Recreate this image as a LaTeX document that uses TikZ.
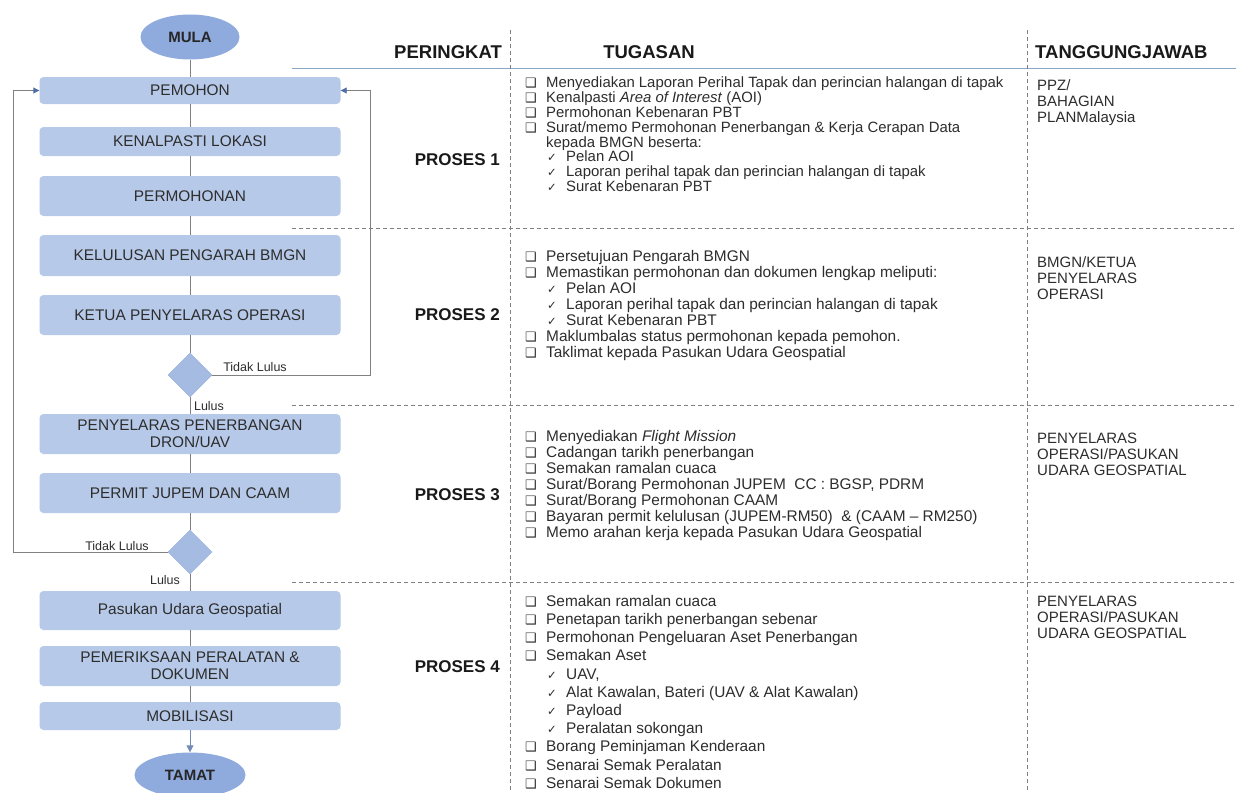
\documentclass[tikz,border=0pt]{standalone}
\usepackage{fontspec}
\setmainfont{Liberation Sans}
\newfontfamily\symfont{DejaVu Sans}
\usetikzlibrary{shapes.geometric}
\usetikzlibrary{arrows.meta}
\usetikzlibrary{calc}
\definecolor{boxblue}{RGB}{183,201,232}
\definecolor{ovalblue}{RGB}{143,170,220}
\definecolor{diablue}{RGB}{166,187,226}
\definecolor{linegray}{RGB}{128,128,128}
\definecolor{tipblue}{RGB}{79,110,165}
\definecolor{txtgray}{RGB}{45,45,45}
\definecolor{rulegray}{RGB}{140,168,196}
\newcommand{\sqbox}{\makebox[21pt][l]{\symfont\fontsize{13}{13}\selectfont ❑}}
\newcommand{\chk}{\hspace*{22pt}\makebox[19pt][l]{\symfont\fontsize{11.5}{11.5}\selectfont ✓}}
\tikzset{pxp/.style={
  x=1pt,
  y=-1pt
}}
\tikzset{stepbox/.style={
  fill=boxblue,
  rounded corners=4pt,
  minimum width=301pt,
  minimum height=40pt,
  inner sep=0pt,
  align=center,
  text=txtgray,
  font=\fontsize{15.4}{17}\selectfont
}}
\tikzset{terminal/.style={
  ellipse,
  fill=ovalblue,
  inner sep=0pt,
  text=black!85,
  font=\bfseries\fontsize{15}{15}\selectfont
}}
\tikzset{decide/.style={
  diamond,
  fill=diablue,
  draw=ovalblue,
  minimum width=44pt,
  minimum height=44pt,
  inner sep=0pt
}}
\tikzset{link/.style={draw=linegray, line width=0.9pt}}
\tikzset{backline/.style={link, -{Triangle[length=6pt,width=6pt,color=tipblue]}}}
\tikzset{endarrow/.style={draw=tipblue!80, line width=1pt, -{Triangle[length=7pt,width=7pt]}}}
\tikzset{verdict/.style={inner sep=0pt, text=txtgray, font=\fontsize{12.5}{13}\selectfont}}
\tikzset{colhead/.style={inner sep=0pt, text=black!90, font=\bfseries\fontsize{18.5}{18.5}\selectfont}}
\tikzset{stage/.style={anchor=east, inner sep=0pt, text=black!90, font=\bfseries\fontsize{17}{17}\selectfont}}
\tikzset{task/.style={anchor=north west, inner sep=0pt, align=left, text=txtgray}}
\tikzset{resp/.style={task, font=\fontsize{15}{16}\selectfont}}
\tikzset{rowsep/.style={draw=linegray, line width=0.6pt, dash pattern=on 4pt off 3pt}}

\begin{document}
\begin{tikzpicture}[pxp]
  \useasboundingbox (0,0) rectangle (1236,792);
  \fill[white] (0,0) rectangle (1236,792);

  % Flow chart
  \node[terminal, minimum width=99pt, minimum height=45pt] (mula) at (190,37) {MULA};
  \node[stepbox, minimum height=27pt] (pemohon) at (190,90.5) {PEMOHON};
  \node[stepbox, minimum height=29pt] (kenal) at (190,141.5) {KENALPASTI LOKASI};
  \node[stepbox] (mohon) at (190,196) {PERMOHONAN};
  \node[stepbox, minimum height=41pt] (lulus) at (190,255.5) {KELULUSAN PENGARAH BMGN};
  \node[stepbox] (ketua) at (190,315) {KETUA PENYELARAS OPERASI};
  \node[decide] (dA) at (190,375) {};
  \node[stepbox] (dron) at (190,434) {PENYELARAS PENERBANGAN\\DRON/UAV};
  \node[stepbox] (permit) at (190,493) {PERMIT JUPEM DAN CAAM};
  \node[decide] (dB) at (190,552) {};
  \node[stepbox, minimum height=39pt] (pasukan) at (190,610.5) {Pasukan Udara Geospatial};
  \node[stepbox] (periksa) at (190,666) {PEMERIKSAAN PERALATAN \&\\DOKUMEN};
  \node[stepbox, minimum height=28pt] (mobil) at (190,716) {MOBILISASI};
  \node[terminal, minimum width=111pt, minimum height=45pt] (tamat) at (190,775) {TAMAT};

  \foreach \a/\b in {mula/pemohon, pemohon/kenal, kenal/mohon, mohon/lulus,
                     lulus/ketua, ketua/dA, dA/dron, dron/permit, permit/dB,
                     dB/pasukan, pasukan/periksa, periksa/mobil}
    \draw[link] (\a) -- (\b);
  \draw[endarrow] (mobil) -- (tamat);

  % Return paths
  \coordinate (rturn) at (370,0);
  \coordinate (lturn) at (13,0);
  \draw[backline] (dA.east) -- (dA.east -| rturn) |- (pemohon.east);
  \draw[backline] (dB.west) -- (dB.west -| lturn) |- (pemohon.west);
  \node[verdict] (tlA) at (255,367) {Tidak Lulus};
  \node[verdict] (lsA) at (209,406) {Lulus};
  \node[verdict] (tlB) at (117,546) {Tidak Lulus};
  \node[verdict] (lsB) at (165,580) {Lulus};

  % Table rules
  \draw[rulegray, line width=0.8pt] (292,68) -- (1236,68);
  \foreach \y in {228,405,582}
    \draw[rowsep] (292,\y) -- (1236,\y);
  \foreach \x in {510,1027}
    \draw[rowsep] (\x,30) -- (\x,792);

  % Headings
  \node[colhead, anchor=east] (hpkt) at (502,52) {PERINGKAT};
  \node[colhead] (htgs) at (649,52) {TUGASAN};
  \node[colhead, anchor=west] (htjw) at (1035,52) {TANGGUNGJAWAB};

  \node[stage] (p1) at (500,160) {PROSES 1};
  \node[stage] (p2) at (500,315) {PROSES 2};
  \node[stage] (p3) at (500,495) {PROSES 3};
  \node[stage] (p4) at (500,667) {PROSES 4};

  % Tasks
  \node[task, font=\fontsize{14.9}{14.8}\selectfont] (t1) at (525,77) {%
    \sqbox Menyediakan Laporan Perihal Tapak dan perincian halangan di tapak\\
    \sqbox Kenalpasti \textit{Area of Interest} (AOI)\\
    \sqbox Permohonan Kebenaran PBT\\
    \sqbox Surat/memo Permohonan Penerbangan \& Kerja Cerapan Data\\
    \hspace*{21pt}kepada BMGN beserta:\\
    \chk Pelan AOI\\
    \chk Laporan perihal tapak dan perincian halangan di tapak\\
    \chk Surat Kebenaran PBT};
  \node[task, font=\fontsize{15.4}{16}\selectfont] (t2) at (525,250) {%
    \sqbox Persetujuan Pengarah BMGN\\
    \sqbox Memastikan permohonan dan dokumen lengkap meliputi:\\
    \chk Pelan AOI\\
    \chk Laporan perihal tapak dan perincian halangan di tapak\\
    \chk Surat Kebenaran PBT\\
    \sqbox Maklumbalas status permohonan kepada pemohon.\\
    \sqbox Taklimat kepada Pasukan Udara Geospatial};
  \node[task, font=\fontsize{15.4}{16}\selectfont] (t3) at (525,430) {%
    \sqbox Menyediakan \textit{Flight Mission}\\
    \sqbox Cadangan tarikh penerbangan\\
    \sqbox Semakan ramalan cuaca\\
    \sqbox Surat/Borang Permohonan JUPEM\ \ CC : BGSP, PDRM\\
    \sqbox Surat/Borang Permohonan CAAM\\
    \sqbox Bayaran permit kelulusan (JUPEM-RM50)\ \ \& (CAAM -- RM250)\\
    \sqbox Memo arahan kerja kepada Pasukan Udara Geospatial};
  \node[task, font=\fontsize{15.4}{18.2}\selectfont] (t4) at (525,595) {%
    \sqbox Semakan ramalan cuaca\\
    \sqbox Penetapan tarikh penerbangan sebenar\\
    \sqbox Permohonan Pengeluaran Aset Penerbangan\\
    \sqbox Semakan Aset\\
    \chk UAV,\\
    \chk Alat Kawalan, Bateri (UAV \& Alat Kawalan)\\
    \chk Payload\\
    \chk Peralatan sokongan\\
    \sqbox Borang Peminjaman Kenderaan\\
    \sqbox Senarai Semak Peralatan\\
    \sqbox Senarai Semak Dokumen};

  % Responsibility
  \node[resp] (r1) at (1037,79) {PPZ/\\BAHAGIAN\\PLANMalaysia};
  \node[resp] (r2) at (1037,256) {BMGN/KETUA\\PENYELARAS\\OPERASI};
  \node[resp] (r3) at (1037,433) {PENYELARAS\\OPERASI/PASUKAN\\UDARA GEOSPATIAL};
  \node[resp] (r4) at (1037,596) {PENYELARAS\\OPERASI/PASUKAN\\UDARA GEOSPATIAL};
\end{tikzpicture}
\end{document}
